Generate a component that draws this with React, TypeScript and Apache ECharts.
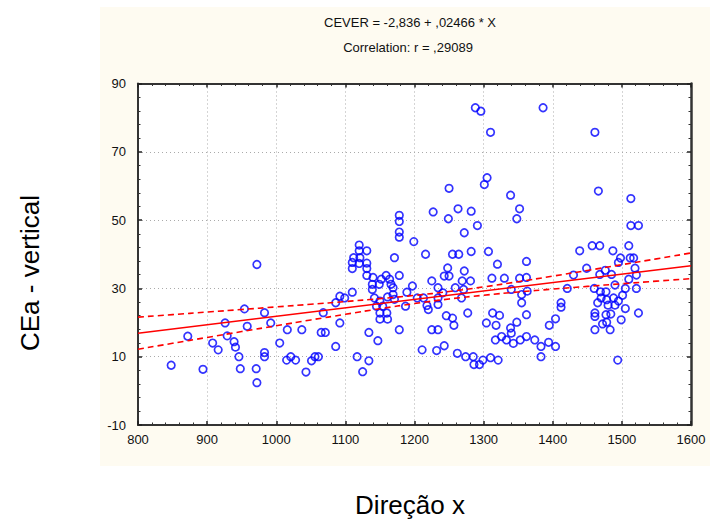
import React, { useEffect, useRef } from "react";
import * as echarts from "echarts";

// Scatter data (Direção x, CEa - vertical)
const xValues: number[] = [
  848, 872, 894, 908, 916, 926, 929, 939, 941, 946, 948, 954, 958, 972, 971, 972, 983, 983, 983, 992,
  1005, 1016, 1015, 1021, 1028, 1037, 1043, 1051, 1056, 1061, 1068, 1065, 1071,
  1086, 1092, 1099, 1086, 1092, 1110, 1120, 1120, 1131, 1112, 1121, 1110, 1120, 1131, 1110, 1131, 1131,
  1140, 1139, 1139, 1149, 1152, 1159, 1164, 1166, 1178, 1171, 1169, 1169, 1178, 1178, 1178, 1178,
  1199, 1216, 1227, 1250, 1249, 1142, 1150, 1145, 1154, 1150, 1160, 1150, 1161, 1178, 1134, 1147,
  1117, 1134, 1125, 1161, 1171, 1187, 1189, 1197, 1204, 1213, 1218, 1220, 1225, 1234, 1234, 1234,
  1241, 1243, 1246, 1225, 1234, 1211, 1232, 1243,
  1288, 1296, 1310, 1386, 1305, 1301, 1339, 1352, 1348, 1263, 1282, 1272, 1291, 1255, 1264, 1282,
  1307, 1320, 1362, 1248, 1272, 1250, 1269, 1281, 1259, 1271, 1312, 1330, 1352, 1362, 1340, 1355,
  1363, 1355, 1268, 1421, 1412, 1412, 1255, 1257, 1277, 1313, 1323, 1304, 1318, 1362, 1348, 1339,
  1340, 1404, 1395, 1317, 1326, 1333, 1343, 1353, 1362, 1374, 1383, 1394, 1404, 1262, 1274, 1285,
  1286, 1294, 1299, 1310, 1321, 1383,
  1461, 1466, 1513, 1513, 1524, 1457, 1468, 1439, 1487, 1510, 1498, 1512, 1517, 1495, 1519, 1449,
  1476, 1430, 1468, 1485, 1521, 1510, 1490, 1460, 1505, 1521, 1469, 1477, 1501, 1470, 1478, 1488,
  1465, 1495, 1480, 1490, 1505, 1461, 1461, 1477, 1484, 1524, 1472, 1478, 1499, 1461, 1483, 1494,
];
const yValues: number[] = [
  7.5, 16, 6.3, 14, 12, 19.9, 16.1, 14.4, 12.8, 10, 6.5, 24, 18.9, 37, 6.5, 2.4, 22.9, 11.2, 10, 19.9,
  14, 17.9, 9, 10, 9, 17.9, 5.5, 8.8, 10, 10, 22.9, 17.1, 17.1,
  25.8, 27.7, 27.2, 13, 19.9, 28.9, 42.7, 41, 41, 39, 39, 37.6, 37.3, 37.4, 35.8, 35.8, 33.8,
  33.2, 31.2, 29.7, 31.2, 32.7, 33.8, 32.7, 31.2, 33.8, 39, 30.2, 28.2, 46.5, 45, 51.4, 49.6,
  43.7, 40, 52.4, 59.3, 50.4, 27.2, 26.3, 24.8, 24.8, 22.8, 22.8, 21, 21, 17.9, 17.1, 14.7,
  10, 8.8, 5.6, 27.5, 26.8, 24.8, 28.9, 30.7, 27.2, 27.2, 25, 23.8, 32.2, 30.2, 27.2, 25.3,
  28.7, 33.6, 22, 17.9, 17.9, 12, 11.8, 13.2,
  82.9, 81.9, 75.7, 82.9, 62.4, 60.4, 57.3, 53.3, 50.4, 53.3, 52.6, 46.3, 48.4, 40, 40, 40.8,
  40.8, 37.1, 37.9, 36, 35.1, 33.6, 32.2, 32.2, 30.2, 29.7, 33, 33, 33, 33.2, 29.7, 28.2,
  29.2, 25.8, 27.2, 30, 25.8, 24.5, 21.3, 19.2, 22.8, 22.8, 22.1, 19.9, 19.2, 22.3, 20.1, 18.4,
  16.9, 21.1, 19.2, 14.9, 15.9, 14.9, 13.9, 14.9, 15.9, 14.9, 13, 14.2, 13, 11, 10, 10,
  7.7, 7.7, 9, 9.7, 9, 10,
  75.7, 58.5, 56.3, 48.4, 48.4, 42.5, 42.5, 41, 41, 42.5, 38.9, 38.9, 38.9, 37.6, 35.9, 35.9,
  35.3, 33.9, 34.1, 34.1, 33.9, 32.7, 31, 30, 30, 30, 29, 29, 28, 27.2, 26.7, 27.2,
  25.8, 26.3, 25.1, 25.1, 24.1, 22.8, 21.8, 22.3, 22.5, 22.8, 19.6, 20.1, 20.8, 17.9, 17.9, 9,
];

// Regression (from the chart's own equation) and its 95% band parameters
const intercept = -2.836;
const slope = 0.02466;
const bandA = 1.2;
const bandB = 1.04e-4;
const bandMeanX = 1248;
const bandXs: number[] = [800, 850, 900, 950, 1000, 1050, 1100, 1150, 1200, 1250, 1300, 1350, 1400, 1450, 1500, 1550, 1600];

const xTicks = { min: 800, max: 1600, interval: 100 };
const yTicks = { min: -10, max: 90, interval: 20 };

const titleLine1 = "CEVER = -2,836 + ,02466 * X";
const titleLine2 = "Correlation: r = ,29089";
const xName = "Direção x";
const yName = "CEa - vertical";

export default function App() {
  const ref = useRef<HTMLDivElement>(null);
  useEffect(() => {
    if (!ref.current) return;
    const chart = echarts.init(ref.current, undefined, { renderer: "svg" });
    const scatter = xValues.map((x, i) => [x, yValues[i]]);
    const fit = (x: number) => intercept + slope * x;
    const half = (x: number) => Math.sqrt(bandA + bandB * (x - bandMeanX) * (x - bandMeanX));
    const fitLine = [800, 1600].map((x) => [x, fit(x)]);
    const upper = bandXs.map((x) => [x, fit(x) + half(x)]);
    const lower = bandXs.map((x) => [x, fit(x) - half(x)]);
    const font = "'Liberation Sans', Arial, sans-serif";
    const axisCommon = {
      type: "value" as const,
      axisLine: { show: true, onZero: false, lineStyle: { color: "#333", width: 2 } },
      axisTick: { show: true, inside: true, length: 4, lineStyle: { color: "#222", width: 1.5 } },
      minorTick: { show: true, splitNumber: 5, length: 2.5, lineStyle: { color: "#333", width: 1 } },
    };
    const plain = (v: number) => String(v);
    chart.setOption({
      animation: false,
      backgroundColor: "#ffffff",
      graphic: [
        { type: "rect", z: -10, silent: true, shape: { x: 100, y: 7, width: 610, height: 459 }, style: { fill: "#FEFBF1" } },
        { type: "text", x: 410, y: 22, style: { text: titleLine1, font: `13px ${font}`, fill: "#111", align: "center", verticalAlign: "middle", textAlign: "center", textVerticalAlign: "middle" } },
        { type: "text", x: 408, y: 47, style: { text: titleLine2, font: `13px ${font}`, fill: "#111", align: "center", verticalAlign: "middle", textAlign: "center", textVerticalAlign: "middle" } },
        { type: "text", x: 410, y: 505, style: { text: xName, font: `26px ${font}`, fill: "#000", align: "center", verticalAlign: "middle", textAlign: "center", textVerticalAlign: "middle" } },
        { type: "text", x: 30, y: 273, rotation: Math.PI / 2, style: { text: yName, font: `26px ${font}`, fill: "#000", align: "center", verticalAlign: "middle", textAlign: "center", textVerticalAlign: "middle" } },
      ],
      grid: { left: 138, right: 19, top: 83.5, bottom: 96, show: true, backgroundColor: "#ffffff", borderWidth: 0 },
      xAxis: [
        {
          ...axisCommon, position: "bottom", ...xTicks,
          axisLabel: { fontSize: 13, color: "#111", margin: 8, fontFamily: font, formatter: plain },
          splitLine: { show: true, lineStyle: { color: "#aaa", type: [1, 3], width: 1 } },
        },
        {
          ...axisCommon, position: "top", ...xTicks,
          axisLabel: { show: false }, splitLine: { show: false },
        },
      ],
      yAxis: [
        {
          ...axisCommon, position: "left", ...yTicks,
          axisLabel: { fontSize: 13, color: "#111", margin: 12, fontFamily: font, formatter: plain },
          splitLine: { show: true, lineStyle: { color: "#aaa", type: [1, 3], width: 1 } },
        },
        {
          ...axisCommon, position: "right", ...yTicks,
          axisLine: { show: true, onZero: false, lineStyle: { color: "#333", width: 2.5 } },
          axisLabel: { show: false }, splitLine: { show: false },
        },
      ],
      series: [
        {
          type: "scatter", data: scatter, symbol: "circle", symbolSize: 7.5,
          itemStyle: { color: "rgba(0,0,0,0)", borderColor: "#0000ff", borderWidth: 1.7 },
          z: 3,
        },
        {
          type: "line", data: fitLine, showSymbol: false, symbol: "none",
          lineStyle: { color: "#ff0000", width: 1.5 }, z: 4,
        },
        {
          type: "line", data: upper, smooth: true, showSymbol: false, symbol: "none",
          lineStyle: { color: "#ff0000", width: 1.6, type: [6, 4] }, z: 4,
        },
        {
          type: "line", data: lower, smooth: true, showSymbol: false, symbol: "none",
          lineStyle: { color: "#ff0000", width: 1.6, type: [6, 4] }, z: 4,
        },
      ],
    });
    return () => chart.dispose();
  }, []);
  return <div ref={ref} style={{ position: "absolute", left: 0, top: 0, width: 710, height: 521 }} />;
}
